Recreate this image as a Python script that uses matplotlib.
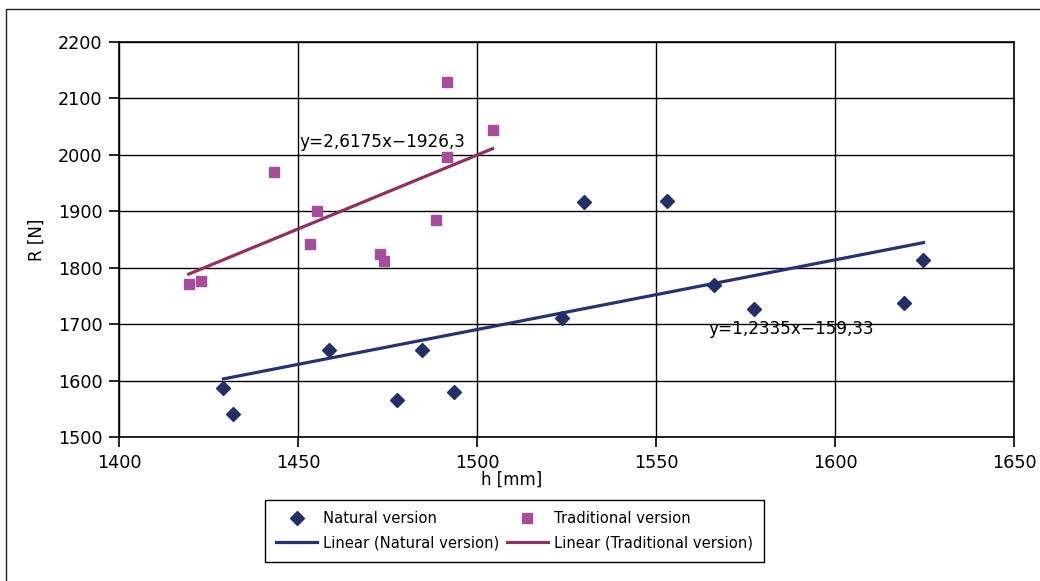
import numpy as np
import matplotlib
matplotlib.use("Agg")
import matplotlib.pyplot as plt
from matplotlib.patches import Rectangle

# values
nat_h = [1429.1, 1431.7, 1458.5, 1477.7, 1484.7, 1493.4, 1523.8, 1529.9, 1553.1, 1566.2, 1577.3, 1619.2, 1624.7]
nat_R = [1588, 1541, 1654, 1566, 1654, 1580, 1711, 1917, 1919, 1769, 1727, 1738, 1814]
trad_h = [1419.4, 1422.9, 1443.1, 1453.2, 1455.2, 1472.9, 1473.9, 1488.6, 1491.6, 1491.6, 1504.3]
trad_R = [1772, 1777, 1970, 1843, 1901, 1824, 1813, 1884, 2130, 1996, 2044]

nat_fit = (1.2335, -159.33)
trad_fit = (2.6175, -1926.3)
nat_eq = "y=1,2335x\u2212159,33"
trad_eq = "y=2,6175x\u22121926,3"

x_ticks = [1400, 1450, 1500, 1550, 1600, 1650]
y_ticks = [1500, 1600, 1700, 1800, 1900, 2000, 2100, 2200]

nat_col = "#233068"
trad_col = "#a54e9c"
nat_line = "#273273"
trad_line = "#922f62"

plt.rcParams['font.family'] = 'DejaVu Sans'
plt.rcParams['font.size'] = 13

fig = plt.figure(figsize=(10.4, 5.81), dpi=100)
fig.patches.append(Rectangle((6 / 1040, -0.1), 1.2, 1.1 - 9.3 / 581,
                             transform=fig.transFigure, fill=False,
                             edgecolor="#222222", linewidth=1.0))
ax = fig.add_axes([0.1147, 0.2473, 0.8603, 0.6804])

ax.plot(nat_h, nat_R, linestyle="none", marker="D", ms=6.8, color=nat_col,
        label="Natural version", zorder=3)
hn = np.array([min(nat_h), max(nat_h)])
ax.plot(hn, nat_fit[0] * hn + nat_fit[1], color=nat_line, lw=2.3,
        label="Linear (Natural version)", zorder=2)
ax.plot(trad_h, trad_R, linestyle="none", marker="s", ms=7.8, color=trad_col,
        label="Traditional version", zorder=3)
ht = np.array([min(trad_h), max(trad_h)])
ax.plot(ht, trad_fit[0] * ht + trad_fit[1], color=trad_line, lw=2.3,
        label="Linear (Traditional version)", zorder=2)

ax.text(1450.4, 2023, trad_eq, va="center", ha="left", fontsize=12.2)
ax.text(1564.6, 1692, nat_eq, va="center", ha="left", fontsize=12.2)

ax.set_xlim(1400, 1650)
ax.set_ylim(1500, 2200)
ax.set_xticks(x_ticks)
ax.set_yticks(y_ticks)
ax.grid(True, color="black", linewidth=1.0)
ax.set_axisbelow(True)
for s in ax.spines.values():
    s.set_linewidth(1.2)
ax.tick_params(direction="out", length=7, width=1.2, pad=5, labelsize=12.7)

ax.set_xlabel("h [mm]", fontsize=12)
ax.xaxis.set_label_coords(0.438, -0.085)
ax.set_ylabel("R [N]", fontsize=12)
ax.yaxis.set_label_coords(-0.082, 0.5)

h, l = ax.get_legend_handles_labels()
leg = fig.legend(h, l, ncol=2,
                 loc="upper left", bbox_to_anchor=(265 / 1040, 1 - 500 / 581),
                 borderaxespad=0, fancybox=False, edgecolor="black",
                 framealpha=1, handlelength=2.8, columnspacing=0.5,
                 borderpad=0.75, labelspacing=0.65, handletextpad=0.4,
                 fontsize=10.6)
leg.get_frame().set_linewidth(1.0)

plt.savefig("out.png", dpi=100)
plt.close()
